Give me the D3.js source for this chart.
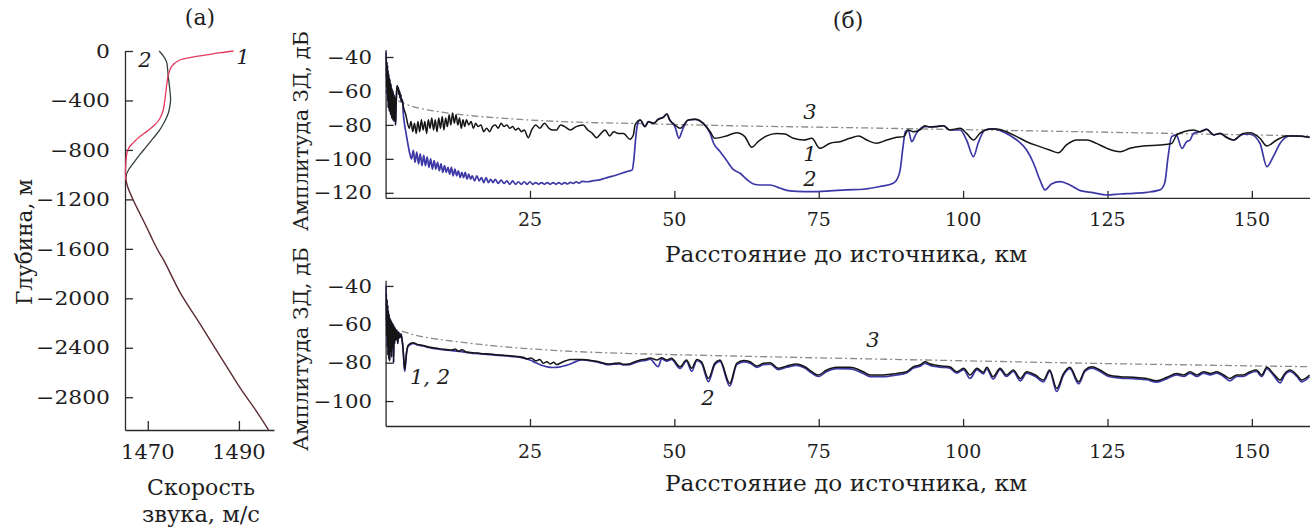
<!DOCTYPE html>
<html>
<head>
<meta charset="utf-8">
<script src="https://cdn.jsdelivr.net/npm/d3@7"></script>
<style>
  body { margin: 0; background: #fff; }
  svg { display: block; }
</style>
</head>
<body>
<svg id="fig" width="1310" height="527"></svg>
<script>
// ---------- Panel (а): sound-speed profiles, [speed m/s, depth m] ----------
const profile1Upper = [[1488.8,0],[1486,-14],[1482.9,-32],[1479.8,-50],[1477,-73],[1475.2,-127],[1474.5,-194],[1474.1,-289],[1473.8,-380],[1473.4,-477],[1472.6,-550],[1471.5,-599],[1469.8,-650],[1468.2,-693],[1467,-735],[1466,-774],[1465.4,-830],[1465.2,-900],[1465.1,-990],[1465.2,-1045]];
const profile2Upper = [[1472.5,0],[1473.4,-40],[1474.1,-86],[1474.5,-208],[1474.8,-300],[1475,-396],[1474.8,-455],[1474.5,-504],[1473.7,-570],[1472.6,-639],[1471.2,-705],[1469.7,-774],[1468.2,-840],[1466.8,-909],[1465.8,-960],[1465.3,-1000],[1465.2,-1045]];
const profileDeep = [[1465.2,-1045],[1465.6,-1100],[1466.8,-1205],[1468.2,-1310],[1469.7,-1421],[1471.1,-1530],[1472.6,-1637],[1473.5,-1691],[1477.2,-1960],[1481,-2180],[1484.6,-2392],[1487.8,-2580],[1490.6,-2743],[1493.6,-2900],[1496.5,-3064]];
const depthTicks = [0, -400, -800, -1200, -1600, -2000, -2400, -2800];
const speedTicks = [1470, 1490];

// ---------- Panel (б), upper plot: amplitude, [km, dB] ----------
const upperNear = [[0.02,-36],[0.07,-52],[0.12,-40],[0.17,-58],[0.22,-43],[0.27,-62],[0.32,-45],[0.37,-66],[0.42,-48],[0.47,-70],[0.52,-50],[0.57,-64],[0.62,-52],[0.67,-72],[0.72,-53],[0.77,-68],[0.82,-55],[0.87,-74],[0.92,-56],[0.97,-70],[1.02,-58],[1.07,-76],[1.12,-59],[1.17,-71],[1.22,-60],[1.27,-77],[1.32,-61],[1.37,-72],[1.42,-62],[1.47,-78],[1.52,-63],[1.58,-74],[1.64,-64],[1.72,-80],[1.8,-70],[1.9,-61],[2.0,-57],[2.1,-59],[2.2,-58],[2.3,-62],[2.4,-60],[2.5,-64],[2.6,-62],[2.7,-66],[2.85,-65],[3.0,-68]];
const upperCurve1 = [[3.2,-71],[3.5,-74],[3.8,-79],[4.1,-82],[4.4,-78],[4.7,-84],[5.0,-79],[5.3,-85],[5.6,-78],[5.9,-84],[6.2,-77],[6.5,-83],[6.8,-78],[7.1,-85],[7.4,-77],[7.7,-82],[8.0,-76],[8.3,-83],[8.6,-77],[8.9,-84],[9.2,-76],[9.5,-82],[9.8,-75],[10.1,-83],[10.4,-76],[10.7,-81],[11.0,-74],[11.3,-80],[11.6,-73],[11.9,-79],[12.2,-74],[12.5,-80],[12.8,-76],[13.1,-82],[13.4,-77],[13.7,-81],[14.0,-77],[14.4,-80],[14.8,-78],[15.2,-82],[15.6,-79],[16.0,-81],[16.5,-80],[17.0,-84],[17.5,-82],[18.0,-84],[18.5,-81],[19.0,-80],[19.5,-82],[20.0,-79],[20.5,-81],[21.0,-80],[21.5,-82],[22.0,-81],[22.5,-83],[23.0,-82],[23.5,-84],[24.0,-83],[24.7,-87.5],[25.3,-83],[26.0,-80],[26.7,-82],[27.5,-79],[28.3,-82],[29.0,-83],[29.6,-83],[30.3,-80],[31.0,-81],[32.0,-83],[33.0,-81],[34.2,-80],[35.0,-83],[35.8,-85],[36.5,-87.5],[37.3,-85],[38.0,-83],[38.8,-86.5],[39.5,-84],[40.3,-85],[41.2,-85],[42.3,-88.5],[42.9,-86],[43.2,-80],[44.1,-77.1],[44.9,-81],[45.5,-78.1],[46.4,-79.1],[47.2,-76.7],[48.1,-75.5],[48.7,-73.6],[49.2,-77.1],[50.1,-80],[51.0,-82],[52.4,-77.1],[53.6,-76.7],[55.0,-79.1],[56.2,-84],[57.0,-87.9],[59.0,-86.5],[60.8,-84.6],[62.2,-86.9],[63.4,-93.2],[64.5,-89.9],[66.0,-86.5],[67.7,-85],[69.2,-85.4],[70.6,-87.9],[72.4,-88.9],[73.8,-87.9],[75.2,-93.8],[77.0,-90.8],[78.7,-89.9],[80.4,-87.9],[81.9,-86.5],[83.3,-88.9],[85.0,-90.8],[86.8,-88.9],[88.5,-87.3],[89.7,-86.9],[90.5,-83],[91.4,-84],[92.5,-83],[93.4,-80.5],[94.3,-81.2],[95.4,-81],[96.6,-80.5],[97.7,-83],[99.5,-82],[100.6,-85],[101.8,-88.9],[102.9,-85],[104.7,-82.4],[105.8,-82.4],[107.5,-84],[109.3,-86.9],[111.0,-89.9],[113.3,-92.8],[115.0,-94.8],[116.5,-96.4],[117.9,-91.8],[119.7,-88.9],[121.4,-88.9],[123.1,-90.9],[124.9,-93.8],[127.2,-95.8],[128.9,-93.8],[131.2,-92.4],[134.1,-91.8],[136.1,-90.9],[137.0,-85.9],[138.2,-84],[139.9,-83],[141.0,-84],[142.2,-82.6],[143.4,-85.9],[144.5,-85],[145.6,-87.3],[146.8,-88.9],[148.5,-85],[149.7,-84.6],[151.4,-87.9],[152.6,-92.4],[154.3,-88.9],[156.0,-86.5],[157.8,-86.5],[160,-87.3]];
const upperCurve2 = [[3.0,-70],[3.3,-80],[3.6,-86],[3.9,-92],[4.2,-97],[4.5,-100],[4.8,-95],[5.1,-102],[5.4,-96],[5.7,-103],[6.0,-97],[6.3,-104],[6.6,-98],[6.9,-104],[7.2,-99],[7.5,-105],[7.8,-100],[8.1,-106],[8.4,-101],[8.7,-106],[9.0,-102],[9.3,-107],[9.6,-103],[9.9,-108],[10.2,-104],[10.5,-108],[10.8,-105],[11.1,-109],[11.4,-105],[11.7,-110],[12.0,-106],[12.3,-110],[12.6,-107],[12.9,-111],[13.2,-108],[13.5,-111],[13.8,-108],[14.1,-112],[14.4,-109],[14.7,-112],[15.0,-110],[15.4,-113],[15.8,-110],[16.2,-113],[16.6,-111],[17.0,-114],[17.4,-111],[17.8,-114],[18.2,-112],[18.6,-114],[19.0,-112],[19.5,-114.5],[20.0,-112.5],[20.5,-114.5],[21.0,-113],[21.5,-115],[22.0,-113],[22.5,-115],[23.0,-113.5],[23.5,-115],[24.0,-113.5],[24.5,-115],[25.0,-113.5],[25.5,-115],[26.0,-114],[26.5,-115],[27.0,-114],[27.5,-115],[28.0,-114],[28.5,-115],[29.0,-114],[29.5,-115],[30.0,-114],[30.5,-115],[31.0,-114],[31.5,-114.8],[32.0,-113.8],[32.5,-114.5],[33.0,-113.5],[33.5,-114.3],[34.0,-113.3],[35.0,-113.5],[36.0,-112.8],[37.0,-112.4],[38.0,-111.4],[39.0,-110.5],[40.0,-109.5],[41.0,-108.3],[42.0,-107.3],[42.7,-106.5],[43.0,-100],[43.3,-88],[43.6,-80],[44.1,-77.1],[44.9,-81],[45.5,-78.1],[46.4,-79.1],[47.2,-76.7],[48.1,-75.5],[48.7,-73.6],[49.2,-77.1],[50.1,-81],[50.8,-87.9],[51.4,-83],[52.4,-77.1],[53.6,-76.7],[55.0,-79.1],[56.2,-85],[56.8,-90.8],[57.9,-95.7],[59.0,-100.7],[60.2,-106.2],[61.4,-108.5],[62.5,-112],[63.7,-114.8],[64.8,-115.4],[66.6,-115.4],[68.3,-117.3],[70.0,-118.9],[72.4,-119.3],[74.7,-119.3],[77.0,-118.9],[79.8,-118.3],[82.7,-117.9],[85.6,-116.3],[87.9,-114.4],[88.5,-112.4],[89.1,-106.5],[89.6,-92.8],[90.0,-84],[90.5,-83],[91.1,-89.9],[91.9,-85],[93.4,-81],[94.3,-81.2],[95.4,-81],[96.6,-80.5],[97.7,-83],[99.5,-83],[100.6,-88.9],[101.8,-98.7],[102.6,-90.8],[103.8,-83],[105.2,-82.4],[107.5,-85],[109.3,-88.9],[111.0,-94.8],[112.2,-102.6],[113.3,-112.4],[114.2,-118.3],[115.3,-114.8],[116.8,-113.4],[118.5,-115.4],[120.3,-118.7],[122.5,-119.9],[124.9,-121.3],[127.2,-120.7],[129.5,-120.3],[131.8,-119.7],[134.1,-118.3],[134.9,-114.4],[135.5,-98.7],[136.1,-86.9],[136.9,-85.9],[137.9,-93.8],[138.7,-89.9],[139.3,-88.9],[139.9,-85],[141.0,-84],[142.2,-82.6],[143.4,-85.9],[144.5,-85],[145.6,-87.3],[146.8,-88.9],[148.5,-85.4],[149.7,-85.5],[151.4,-90.8],[152.6,-104.6],[153.7,-98.7],[154.9,-90.8],[156.6,-86.5],[158.3,-86.7],[160,-87.3]];
const upperCurve3 = [[2.2,-65.8],[3.5,-67.8],[5,-69.5],[7.5,-71.3],[10,-72.6],[15,-74.6],[20,-76],[30,-78],[43.5,-79.2],[60,-80.5],[80,-81.6],[100,-82.8],[120,-84],[140,-85.3],[160,-86.5]];
const upperAmpTicks = [-40, -60, -80, -100, -120];

// ---------- Panel (б), lower plot: amplitude, [km, dB] ----------
const lowerNear = [[0.02,-40],[0.08,-58],[0.12,-44],[0.18,-66],[0.24,-47],[0.3,-72],[0.36,-50],[0.42,-76],[0.48,-53],[0.55,-78],[0.62,-55],[0.7,-79],[0.78,-57],[0.86,-74],[0.94,-58],[1.02,-77],[1.1,-59],[1.2,-72],[1.3,-60],[1.38,-80],[1.46,-61],[1.56,-70],[1.66,-62],[1.8,-68],[1.95,-63],[2.1,-70],[2.25,-64],[2.45,-67],[2.65,-65],[2.85,-68],[3.0,-72]];
const lowerCurve1 = [[3.15,-78],[3.3,-83.5],[3.45,-80],[3.65,-74],[3.9,-71],[4.3,-70],[4.8,-69.6],[5.5,-70.5],[6.5,-71],[7.5,-71.8],[8.5,-72.4],[9.5,-72.8],[10.5,-73.1],[11.5,-73.4],[12.1,-72.8],[12.6,-74.2],[13.2,-73.2],[14,-74.4],[15,-74.8],[16,-75],[17,-75.3],[18,-75.5],[19,-75.8],[20,-76],[21,-76.2],[22,-76.5],[23,-76.8],[23.8,-77.2],[24.5,-78],[25.2,-77.5],[26,-79],[26.7,-78.4],[27.3,-80.3],[27.9,-79.5],[28.5,-80.6],[29.1,-79.8],[29.6,-81],[30.4,-80],[31.2,-79],[32,-78.3],[33,-78.3],[34,-78.3],[35,-78.6],[36.5,-79.3],[37.5,-80],[38.5,-80.7],[39.5,-80.4],[40.5,-80.2],[41.2,-80.8],[42.3,-80.5],[43.2,-79.5],[44.1,-78.6],[45.0,-78.2],[45.8,-77.6],[47.0,-78.6],[47.8,-77.4],[48.7,-78.6],[49.5,-77.7],[51.0,-82.1],[52.1,-78.6],[53.0,-82.9],[53.9,-78.3],[54.7,-79.5],[55.9,-88.2],[57.0,-80.3],[57.9,-78.6],[59.6,-90.8],[60.8,-80.3],[62.0,-78.9],[63.1,-79.5],[64.3,-81.7],[65.4,-80.3],[66.6,-80],[68.0,-82.9],[69.5,-81.7],[71.2,-80.7],[72.6,-82.1],[73.8,-84.7],[74.9,-86.4],[76.4,-83.8],[78.1,-82.4],[80.4,-82.4],[82.7,-84.7],[83.9,-86.4],[86.2,-86.4],[88.5,-85.6],[90.2,-84.7],[91.4,-82.1],[92.5,-81.2],[93.4,-79.5],[94.3,-80.7],[95.1,-81.2],[96.3,-81.7],[97.7,-82.1],[98.9,-84.7],[100.1,-82.9],[101.2,-86.4],[102.4,-82.9],[103.5,-85],[104.1,-82.4],[105.2,-87.3],[106.4,-82.9],[107.5,-86.4],[108.7,-83.8],[109.9,-88.2],[111.0,-84.7],[112.5,-86.4],[113.9,-89],[115.0,-83.8],[116.2,-93.4],[117.4,-85.6],[118.5,-82.4],[120.0,-89.9],[121.1,-83.8],[122.3,-82.1],[123.7,-83.8],[125.2,-86.4],[127.2,-87.3],[129.5,-87.6],[131.8,-88.2],[133.5,-89.4],[135.3,-87.6],[137.0,-85.6],[138.2,-86.4],[139.3,-84.7],[140.5,-86.4],[141.6,-84.7],[142.8,-85.6],[143.9,-84.7],[145.1,-86.4],[146.2,-88.2],[147.4,-86.4],[148.5,-86.4],[149.7,-84.7],[150.8,-83.8],[151.7,-86.4],[152.6,-82.4],[153.7,-85.6],[154.9,-89],[155.7,-85.6],[156.6,-83.8],[157.8,-86.4],[158.6,-89],[160,-86.4]];
const lowerCurve2 = [[3.15,-79],[3.3,-84.5],[3.45,-81],[3.65,-74.5],[3.9,-71.5],[4.3,-70.5],[4.8,-70],[5.5,-70.8],[6.5,-71.3],[7.5,-72.1],[8.5,-72.7],[9.5,-73.1],[10.5,-73.4],[11.5,-73.7],[12.5,-74],[14,-74.7],[15,-75.1],[16,-75.3],[17,-75.6],[18,-75.8],[19,-76.1],[20,-76.3],[21,-76.5],[22,-76.8],[23,-77.1],[23.8,-77.6],[25,-78.6],[26,-80],[27,-81.3],[28,-82.2],[29,-82.5],[30,-82.3],[31,-81.6],[32,-80.7],[33,-79.3],[34,-78.6],[35,-78.8],[36.5,-79.6],[37.5,-80.3],[38.5,-81],[39.5,-80.8],[40.5,-80.6],[41.2,-81.2],[42.3,-81],[43.2,-80],[44.1,-79.2],[45.0,-78.8],[45.8,-78.2],[47.2,-82.1],[47.8,-78],[48.7,-79.2],[49.5,-78.3],[51.0,-83],[52.1,-79.2],[53.0,-84.5],[53.9,-79],[54.7,-80.3],[55.9,-89.9],[57.0,-81],[57.9,-79.3],[59.6,-92.2],[60.8,-81],[62.0,-79.6],[63.1,-80.2],[64.3,-82.4],[65.4,-81],[66.6,-80.8],[68.0,-83.6],[69.5,-82.4],[71.2,-81.4],[72.6,-82.8],[73.8,-85.4],[74.9,-87.2],[76.4,-84.6],[78.1,-83.1],[80.4,-83.2],[82.7,-85.6],[83.9,-87.3],[86.2,-87.3],[88.5,-86.4],[90.2,-85.4],[91.4,-82.8],[92.5,-81.9],[93.4,-80.4],[94.3,-81.4],[95.1,-82],[96.3,-82.4],[97.7,-82.8],[98.9,-85.4],[100.1,-83.6],[101.2,-88.2],[102.4,-83.6],[103.5,-85.8],[104.1,-83.2],[105.2,-88.5],[106.4,-83.6],[107.5,-87.2],[108.7,-84.6],[109.9,-89.5],[111.0,-85.4],[112.5,-87.2],[113.9,-90],[115.0,-84.6],[116.2,-95],[117.4,-86.4],[118.5,-83.1],[120.0,-91],[121.1,-84.6],[122.3,-82.8],[123.7,-84.6],[125.2,-87.2],[127.2,-88],[129.5,-88.3],[131.8,-88.9],[133.5,-90.1],[135.3,-88.3],[137.0,-86.4],[138.2,-87.2],[139.3,-85.4],[140.5,-87.2],[141.6,-85.4],[142.8,-86.4],[143.9,-85.4],[145.1,-87.2],[146.2,-89.5],[147.4,-87.2],[148.5,-87.2],[149.7,-85.4],[150.8,-84.6],[151.7,-87.2],[152.6,-83.1],[153.7,-86.4],[154.9,-90.5],[155.7,-86.4],[156.6,-84.6],[157.8,-87.2],[158.6,-90],[160,-87.2]];
const lowerCurve3 = [[2.8,-63.5],[5,-65.5],[8,-67.3],[12.3,-69],[18,-71],[23.8,-72.5],[33,-74.2],[43.5,-75.3],[60,-76.5],[80,-77.8],[100,-79],[120,-80.2],[140,-81.2],[160,-82.1]];
const lowerAmpTicks = [-40, -60, -80, -100];
const rangeTicks = [25, 50, 75, 100, 125, 150];

// ---------- drawing ----------
const svg = d3.select("#fig");
const fmt = d3.format("d");   // uses the typographic minus sign
const AXIS = "#2a2a2a";
const SERIF = "DejaVu Serif, Liberation Serif, Noto Serif, serif";

function label(x, y, s, o = {}) {
  const t = svg.append("text")
    .attr("transform", `translate(${x},${y}) scale(${o.sx || 1},1)` + (o.rot ? " rotate(-90)" : ""))
    .attr("text-anchor", o.anchor || "middle")
    .attr("dy", "0.35em")
    .style("font-family", SERIF)
    .style("font-size", (o.size || 20) + "px")
    .attr("fill", "#1e1e1e")
    .text(s);
  if (o.len) t.attr("textLength", o.len).attr("lengthAdjust", "spacingAndGlyphs");
  if (o.italic) t.style("font-style", "italic");
  return t;
}

function styleAxis(g) {
  g.select(".domain").attr("stroke", AXIS).attr("stroke-width", 1.3);
  g.selectAll(".tick line").attr("stroke", AXIS).attr("stroke-width", 1.3);
  g.selectAll(".tick text").remove();
}

// ----- panel (а) -----
const xA = d3.scaleLinear([1465, 1497.7], [125, 274]);
const yA = d3.scaleLinear([0, -3065], [51, 430]);

svg.append("g").attr("transform", `translate(${xA.range()[0]},0)`)
  .call(d3.axisLeft(yA).tickValues(depthTicks).tickSizeInner(-8).tickSizeOuter(0))
  .call(styleAxis);
svg.append("g").attr("transform", `translate(0,${yA.range()[1]})`)
  .call(d3.axisBottom(xA).tickValues(speedTicks).tickSizeInner(-9).tickSizeOuter(0))
  .call(styleAxis);

depthTicks.forEach(v => label(110, yA(v), fmt(v), { anchor: "end", size: 19, sx: 1.15 }));
speedTicks.forEach(v => label(xA(v), 452, fmt(v), { size: 21 }));
label(201, 487, "Скорость", { size: 23, len: 108 });
label(201, 514, "звука, м/с", { size: 23, len: 118 });
label(24, 242, "Глубина, м", { size: 22, rot: true, len: 126 });
label(200, 17, "(а)", { size: 22 });

const profLine = d3.line().x(d => xA(d[0])).y(d => yA(d[1])).curve(d3.curveCatmullRom.alpha(0.5));
svg.append("path").datum(profile2Upper).attr("d", profLine)
  .attr("fill", "none").attr("stroke", "#34403a").attr("stroke-width", 1.3);
svg.append("path").datum(profile1Upper).attr("d", profLine)
  .attr("fill", "none").attr("stroke", "#e3395c").attr("stroke-width", 1.3);
svg.append("path").datum(profileDeep).attr("d", profLine)
  .attr("fill", "none").attr("stroke", "#5a2a30").attr("stroke-width", 1.4);

label(145, 60, "2", { size: 21, italic: true });
label(243, 57, "1", { size: 21, italic: true });

// ----- panel (б) -----
const xB = d3.scaleLinear([0, 160], [385.6, 1309.6]);
const yUp = d3.scaleLinear([-37, -123], [51.9, 197.9]);
const yLo = d3.scaleLinear([-37, -113], [280.2, 426]);

function ampPlot(y, ticks, near, c1, c2, c3, id) {
  const [yb, yt] = [y.range()[1], y.range()[0]];
  svg.append("defs").append("clipPath").attr("id", id)
    .append("rect").attr("x", xB.range()[0]).attr("y", yt - 2)
    .attr("width", xB.range()[1] - xB.range()[0] + 1).attr("height", yb - yt + 2);

  svg.append("g").attr("transform", `translate(${xB.range()[0]},0)`)
    .call(d3.axisLeft(y).tickValues(ticks).tickSizeInner(-8).tickSizeOuter(0))
    .call(styleAxis);
  svg.append("g").attr("transform", `translate(0,${yb})`)
    .call(d3.axisBottom(xB).tickValues(rangeTicks).tickSizeInner(-7).tickSizeOuter(0))
    .call(styleAxis);

  ticks.forEach(v => label(372, y(v), fmt(v), { anchor: "end", size: 19, sx: 1.12 }));

  const line = d3.line().x(d => xB(d[0])).y(d => y(d[1])).curve(d3.curveMonotoneX);
  const g = svg.append("g").attr("clip-path", `url(#${id})`);
  g.append("path").datum(c3).attr("d", line)
    .attr("fill", "none").attr("stroke", "#8a8a86").attr("stroke-width", 1.3)
    .attr("stroke-dasharray", "7,3,2,3");
  g.append("path").datum(near.concat(c2)).attr("d", line)
    .attr("fill", "none").attr("stroke", "#3d38a6").attr("stroke-width", 1.7)
    .attr("stroke-linejoin", "round");
  g.append("path").datum(near.concat(c1)).attr("d", line)
    .attr("fill", "none").attr("stroke", "#151515").attr("stroke-width", 1.5)
    .attr("stroke-linejoin", "round");
}

ampPlot(yUp, upperAmpTicks, upperNear, upperCurve1, upperCurve2, upperCurve3, "clipUp");
ampPlot(yLo, lowerAmpTicks, lowerNear, lowerCurve1, lowerCurve2, lowerCurve3, "clipLo");

rangeTicks.forEach(v => label(xB(v), 219, fmt(v), { size: 19 }));
rangeTicks.forEach(v => label(xB(v), 451, fmt(v), { size: 19 }));
label(846, 254, "Расстояние до источника, км", { size: 22, len: 362 });
label(846, 483, "Расстояние до источника, км", { size: 22, len: 362 });
label(301, 131, "Амплитуда ЗД, дБ", { size: 21, rot: true, len: 200 });
label(301, 349, "Амплитуда ЗД, дБ", { size: 21, rot: true, len: 204 });
label(848, 20, "(б)", { size: 22 });

// curve numbers
label(810, 112, "3", { size: 21, italic: true });
label(810, 154, "1", { size: 21, italic: true });
label(810, 179, "2", { size: 21, italic: true });
label(873, 340, "3", { size: 21, italic: true });
label(708, 398, "2", { size: 21, italic: true });
label(430, 377, "1, 2", { size: 21, italic: true });
</script>
</body>
</html>
